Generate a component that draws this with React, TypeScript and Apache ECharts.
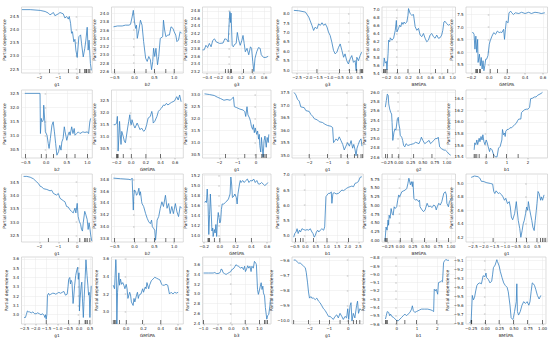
import React, { useEffect, useRef } from "react";
import * as echarts from "echarts";

// ---------- data ----------
const featureNames = ["g1", "b2", "g3", "g3", "BMSPA", "GMSPA", "b2", "GMSPA", "g1", "g1", "g2", "b1",
  "g1", "b2", "GMSPA", "b1", "BMSPA", "g1", "g1", "GMSPA", "b3", "g1", "b1", "BMSPA"];

const pd01 = [[-2.93,24.76],[-2.49,24.76],[-1.96,24.73],[-1.70,24.69],[-1.53,24.63],[-1.44,24.56],[-1.26,24.65],[-1.18,24.53],[-1.0,24.6],[-0.91,24.65],[-0.74,24.6],[-0.65,24.44],[-0.56,24.5],[-0.47,24.4],[-0.42,24.5],[-0.35,24.24],[-0.3,23.86],[-0.25,23.92],[-0.18,23.54],[-0.12,23.63],[-0.07,23.22],[0,22.94],[0.09,23.73],[0.18,23.8],[0.23,23.47],[0.32,22.96],[0.4,23.28],[0.46,23.6],[0.53,24.09],[0.58,23.22],[0.63,23.6],[0.7,22.71],[0.75,22.45]];
const pd02 = [[-0.53,23.68],[-0.43,23.7],[-0.31,23.7],[-0.23,23.72],[-0.14,23.72],[-0.1,23.74],[-0.06,23.92],[-0.03,24.08],[0,23.8],[0.03,23.64],[0.05,23.72],[0.07,23.4],[0.11,23.6],[0.15,23.84],[0.19,23.72],[0.23,23.32],[0.28,22.92],[0.32,22.84],[0.36,22.96],[0.4,22.88],[0.43,22.64],[0.46,22.84],[0.48,23.16],[0.51,22.96],[0.54,23.16],[0.58,22.76],[0.61,22.96],[0.65,23.4],[0.71,23.44],[0.73,23.84],[0.76,23.6],[0.79,23.44],[0.84,23.48],[0.88,23.48],[0.92,23.68],[0.97,23.64],[1.0,23.56],[1.04,23.48],[1.07,23.32],[1.11,23.36],[1.15,23.56],[1.19,23.52]];
const pd03 = [[-0.48,23.77],[-0.45,23.77],[-0.42,23.89],[-0.39,23.83],[-0.36,23.94],[-0.33,23.85],[-0.3,24.02],[-0.27,24.06],[-0.24,23.98],[-0.18,23.94],[-0.12,23.95],[-0.09,24.06],[-0.06,24.05],[-0.03,23.98],[-0.01,24.57],[0,24.78],[0.01,24.49],[0.02,24.74],[0.04,23.89],[0.06,23.85],[0.08,23.91],[0.11,23.94],[0.13,24.23],[0.15,24.06],[0.18,23.89],[0.21,24.02],[0.23,24.15],[0.25,23.94],[0.27,23.72],[0.3,23.81],[0.33,23.64],[0.36,23.85],[0.38,23.81],[0.4,23.47],[0.42,23.2],[0.44,23.55],[0.47,23.72],[0.5,23.83],[0.53,23.81],[0.55,23.64],[0.59,23.57],[0.63,23.57],[0.67,23.6]];
const pd04 = [[-2.65,8.18],[-2.42,8.16],[-2.1,8.09],[-1.94,7.82],[-1.79,7.38],[-1.71,7.11],[-1.63,7.29],[-1.55,7.2],[-1.47,7.46],[-1.39,7.38],[-1.31,7.52],[-1.23,7.38],[-1.15,7.46],[-1.07,7.29],[-1.0,7.02],[-0.92,6.84],[-0.84,6.48],[-0.76,6.04],[-0.68,5.86],[-0.6,5.95],[-0.52,6.21],[-0.44,6.39],[-0.36,6.04],[-0.28,5.68],[-0.21,5.86],[-0.13,5.5],[-0.05,5.32],[0.03,5.59],[0.11,5.77],[0.19,5.41],[0.27,5.5],[0.32,4.96],[0.35,5.68],[0.43,5.5],[0.51,5.77],[0.58,5.95]];
const pd05 = [[-0.25,5.57],[-0.24,5.78],[-0.22,5.65],[-0.2,5.69],[-0.19,5.48],[-0.17,5.9],[-0.16,6.23],[-0.14,6.19],[-0.13,6.29],[-0.1,6.23],[-0.07,6.28],[-0.04,6.48],[-0.02,6.73],[-0.01,6.44],[0.02,6.53],[0.04,6.61],[0.06,6.57],[0.08,6.68],[0.1,6.63],[0.12,6.69],[0.14,6.65],[0.17,6.69],[0.19,6.86],[0.2,7.03],[0.23,6.9],[0.26,6.86],[0.29,6.88],[0.32,6.57],[0.35,6.48],[0.38,6.53],[0.41,6.36],[0.44,6.32],[0.47,6.4],[0.5,6.28],[0.53,6.19],[0.56,6.23],[0.59,6.36],[0.62,6.4],[0.65,6.32],[0.68,6.28],[0.71,6.36],[0.74,6.28],[0.77,6.29],[0.8,6.36],[0.82,6.48],[0.84,6.69],[0.86,6.71],[0.89,6.65],[0.92,6.61],[0.95,6.63]];
const pd06 = [[-0.19,6.78],[-0.18,6.78],[-0.17,6.71],[-0.16,6.12],[-0.15,6.64],[-0.14,5.99],[-0.13,6.51],[-0.125,5.59],[-0.11,5.92],[-0.1,5.46],[-0.09,5.79],[-0.08,5.33],[-0.07,5.66],[-0.06,5.26],[-0.05,5.46],[-0.04,5.72],[-0.03,5.72],[-0.015,5.86],[0,6.32],[0.01,6.45],[0.03,6.64],[0.05,6.78],[0.07,6.71],[0.09,6.84],[0.11,6.78],[0.125,6.8],[0.14,6.78],[0.16,6.91],[0.17,6.51],[0.18,6.91],[0.19,7.24],[0.21,7.17],[0.22,7.57],[0.24,7.63],[0.25,7.57],[0.27,7.5],[0.29,7.57],[0.33,7.54],[0.36,7.59],[0.4,7.54],[0.44,7.59],[0.47,7.54],[0.51,7.59],[0.55,7.57],[0.58,7.54],[0.62,7.57]];
const pd07 = [[-0.52,32.5],[-0.15,32.5],[-0.14,31.07],[-0.12,31.61],[-0.1,31.49],[-0.07,31.55],[-0.06,32.08],[-0.03,31.43],[-0.02,31.13],[0.02,31.01],[0.05,30.71],[0.07,30.54],[0.1,30.89],[0.14,31.37],[0.17,31.49],[0.2,31.13],[0.23,30.71],[0.26,30.3],[0.3,30.42],[0.33,30.65],[0.36,30.48],[0.38,30.77],[0.41,30.89],[0.44,31.31],[0.46,31.13],[0.5,30.83],[0.53,31.01],[0.56,31.13],[0.58,31.01],[0.62,31.31],[0.65,31.07],[0.68,31.25],[0.7,31.01],[0.74,31.07],[0.78,31.13],[0.82,31.07],[0.89,31.13],[0.94,31.11],[1.0,31.13],[1.03,31.07],[1.06,31.49],[1.08,31.61]];
const pd08 = [[-0.24,31.5],[-0.22,31.5],[-0.2,31.57],[-0.19,31.85],[-0.185,31.36],[-0.18,30.39],[-0.17,30.94],[-0.16,31.64],[-0.15,31.08],[-0.14,30.67],[-0.13,31.22],[-0.11,31.01],[-0.095,30.81],[-0.08,30.74],[-0.07,30.94],[-0.05,31.36],[-0.035,31.64],[-0.02,31.92],[-0.01,31.57],[0,31.5],[0.01,31.71],[0.03,31.5],[0.05,31.36],[0.08,31.57],[0.1,31.43],[0.12,31.29],[0.14,31.36],[0.17,31.22],[0.19,31.29],[0.21,31.5],[0.23,31.78],[0.26,31.85],[0.28,32.06],[0.29,31.92],[0.3,31.57],[0.32,31.64],[0.35,31.85],[0.37,32.06],[0.39,32.13],[0.41,32.19],[0.44,32.33],[0.46,32.31],[0.48,32.4],[0.5,32.33],[0.53,32.4],[0.55,32.44],[0.57,32.47],[0.59,32.5],[0.62,32.68],[0.64,32.54],[0.66,32.75],[0.68,32.47]];
const pd09 = [[-2.81,33.04],[-2.54,33.01],[-2.28,32.97],[-2.11,32.9],[-1.93,32.84],[-1.75,32.77],[-1.58,32.8],[-1.4,32.77],[-1.32,32.84],[-1.23,32.9],[-1.18,32.5],[-1.05,32.46],[-0.88,32.4],[-0.7,32.36],[-0.61,32.29],[-0.56,32.09],[-0.49,32.5],[-0.44,32.16],[-0.35,32.02],[-0.3,31.89],[-0.25,31.68],[-0.18,31.55],[-0.14,31.75],[-0.09,31.41],[-0.04,31.61],[0.04,31.34],[0.09,31.48],[0.14,31.14],[0.18,31.34],[0.21,30.87],[0.26,30.6],[0.3,31.21],[0.35,30.73],[0.39,30.39],[0.44,31.07],[0.49,31.27],[0.56,30.8],[0.61,31.21],[0.67,31.0],[0.7,31.34]];
const pd10 = [[-2.81,37.5],[-2.72,37.41],[-2.63,37.23],[-2.54,37.16],[-2.46,36.93],[-2.28,36.9],[-2.19,36.78],[-2.02,36.75],[-1.93,36.63],[-1.84,36.56],[-1.75,36.46],[-1.58,36.41],[-1.49,36.34],[-1.32,36.31],[-1.23,36.26],[-1.14,36.22],[-1.05,36.19],[-0.88,36.16],[-0.79,36.11],[-0.74,35.51],[-0.67,35.59],[-0.61,35.66],[-0.53,35.59],[-0.44,35.74],[-0.35,35.59],[-0.26,35.44],[-0.18,35.22],[-0.09,35.37],[0,35.51],[0.09,35.37],[0.18,35.59],[0.26,35.29],[0.32,35.44],[0.39,35.22],[0.44,34.99],[0.49,35.29],[0.56,35.44],[0.63,35.59],[0.7,35.66],[0.75,35.37]];
const pd11 = [[-0.28,25.68],[-0.26,25.82],[-0.24,25.96],[-0.22,25.93],[-0.21,25.75],[-0.19,25.64],[-0.17,25.57],[-0.15,25.53],[-0.14,25.35],[-0.125,24.96],[-0.1,25.14],[-0.08,25.21],[-0.06,25.18],[-0.03,25.43],[-0.01,25.46],[0,25.32],[0.02,25.21],[0.03,25.07],[0.06,25.03],[0.07,25.0],[0.08,24.96],[0.1,24.85],[0.125,24.82],[0.15,24.89],[0.19,24.85],[0.24,24.87],[0.31,24.89],[0.35,24.92],[0.42,24.89],[0.45,24.96],[0.47,25.03],[0.5,24.96],[0.54,24.89],[0.58,24.92],[0.63,24.96],[0.66,24.89],[0.69,24.92],[0.73,24.96],[0.76,25.0],[0.8,25.0],[0.82,25.03],[0.85,24.82],[0.89,24.78],[0.94,24.75],[0.97,24.75],[1.01,24.71],[1.04,24.67],[1.08,24.64]];
const pd12 = [[-0.58,15.52],[-0.55,15.64],[-0.5,15.61],[-0.45,15.69],[-0.41,15.61],[-0.34,15.72],[-0.3,15.66],[-0.25,15.75],[-0.2,15.69],[-0.16,15.78],[-0.11,15.66],[-0.06,15.61],[0,15.69],[0.05,15.64],[0.09,15.58],[0.16,15.49],[0.2,15.55],[0.28,15.52],[0.36,15.43],[0.44,15.4],[0.52,15.4],[0.59,15.55],[0.67,15.58],[0.75,15.69],[0.78,15.87],[0.83,15.78],[0.88,15.81],[0.91,15.75],[0.94,15.84],[1.0,15.87],[1.06,15.87],[1.14,15.9],[1.22,15.9],[1.3,15.93],[1.38,15.96],[1.45,15.98],[1.5,16.02],[1.56,16.05],[1.66,16.05],[1.69,16.16],[1.77,16.19],[1.84,16.21],[1.92,16.22],[2.0,16.22],[2.08,16.25],[2.13,16.4],[2.23,16.41],[2.31,16.43],[2.39,16.43],[2.47,16.46],[2.63,16.49],[2.7,16.51]];
const pd13 = [[-2.84,34.71],[-2.67,34.71],[-2.49,34.68],[-2.32,34.62],[-2.23,34.56],[-2.14,34.5],[-2.05,34.44],[-1.96,34.34],[-1.88,34.32],[-1.79,34.25],[-1.61,34.22],[-1.44,34.17],[-1.35,34.19],[-1.26,34.07],[-1.09,34.01],[-1.0,34.07],[-0.91,33.89],[-0.74,33.8],[-0.65,33.76],[-0.56,33.58],[-0.47,33.56],[-0.39,33.46],[-0.3,33.4],[-0.21,33.34],[-0.12,33.52],[-0.07,33.34],[0,33.7],[0.05,33.21],[0.11,33.03],[0.18,32.91],[0.23,32.72],[0.28,32.66],[0.32,32.97],[0.4,33.4],[0.46,33.27],[0.53,33.09],[0.58,32.72],[0.63,32.97],[0.67,32.78],[0.72,32.48],[0.77,32.29]];
const pd14 = [[-0.53,34.82],[-0.35,34.81],[-0.14,34.8],[-0.1,34.79],[-0.06,34.82],[-0.03,34.28],[-0.02,34.51],[0,34.62],[0.03,34.59],[0.05,34.53],[0.08,34.56],[0.11,34.65],[0.13,34.53],[0.15,34.59],[0.18,34.42],[0.19,34.39],[0.23,34.34],[0.28,34.22],[0.32,34.14],[0.36,34.08],[0.4,34.05],[0.43,34.11],[0.45,34.0],[0.48,33.97],[0.51,33.94],[0.53,33.77],[0.55,33.91],[0.57,34.11],[0.61,34.17],[0.65,34.31],[0.69,34.42],[0.73,34.34],[0.78,34.53],[0.82,34.31],[0.86,34.39],[0.9,34.22],[0.94,34.34],[0.98,34.22],[1.03,34.39],[1.07,34.25],[1.11,34.17],[1.15,34.34],[1.19,34.31]];
const pd15 = [[-0.19,14.66],[-0.18,14.69],[-0.17,14.66],[-0.16,14.93],[-0.15,14.66],[-0.14,14.02],[-0.13,14.42],[-0.12,14.83],[-0.11,14.49],[-0.1,14.09],[-0.09,14.15],[-0.085,13.98],[-0.07,14.12],[-0.06,14.05],[-0.05,14.22],[-0.04,13.98],[-0.03,14.29],[-0.02,14.46],[-0.01,14.36],[0,14.25],[0.01,14.29],[0.02,14.52],[0.03,14.63],[0.05,14.63],[0.07,14.66],[0.09,14.69],[0.11,14.73],[0.13,14.83],[0.14,15.17],[0.15,15.03],[0.16,14.76],[0.18,14.79],[0.19,14.83],[0.21,14.76],[0.22,14.63],[0.23,14.83],[0.25,15.03],[0.26,15.1],[0.27,15.06],[0.29,15.1],[0.31,15.06],[0.33,15.1],[0.35,15.13],[0.37,15.06],[0.39,15.1],[0.41,15.09],[0.43,15.13],[0.45,15.06],[0.47,15.1],[0.49,15.03],[0.51,15.03],[0.53,15.06],[0.55,15.03],[0.57,15.0],[0.59,15.02],[0.61,15.06]];
const pd16 = [[-0.55,4.94],[-0.5,5.06],[-0.44,5.11],[-0.39,5.22],[-0.34,5.06],[-0.28,5.17],[-0.23,5.11],[-0.16,5.22],[-0.08,5.19],[0,5.17],[0.08,5.19],[0.16,5.17],[0.23,5.22],[0.31,5.11],[0.36,5.06],[0.42,4.94],[0.47,5.0],[0.52,5.11],[0.58,5.17],[0.63,5.11],[0.7,5.17],[0.78,5.22],[0.86,5.17],[0.91,5.28],[0.97,6.28],[1.02,6.33],[1.09,6.39],[1.17,6.39],[1.22,6.44],[1.25,6.06],[1.3,6.39],[1.36,6.41],[1.45,6.37],[1.56,6.39],[1.64,6.44],[1.72,6.5],[1.8,6.48],[1.88,6.52],[1.95,6.56],[2.03,6.59],[2.11,6.61],[2.19,6.63],[2.27,6.61],[2.34,6.72],[2.42,6.74],[2.5,6.78],[2.58,6.92],[2.66,6.94]];
const pd17 = [[-0.3,3.98],[-0.28,4.38],[-0.26,4.29],[-0.24,4.58],[-0.23,4.43],[-0.22,4.72],[-0.2,4.63],[-0.18,4.91],[-0.16,4.77],[-0.14,4.72],[-0.12,4.96],[-0.1,4.91],[-0.07,4.96],[-0.05,5.15],[-0.03,5.3],[-0.01,5.25],[0,5.25],[0.03,5.39],[0.07,5.42],[0.1,5.44],[0.13,5.49],[0.15,5.62],[0.17,5.78],[0.18,5.73],[0.2,5.59],[0.22,5.68],[0.24,5.54],[0.25,5.68],[0.27,5.2],[0.3,5.15],[0.33,5.17],[0.36,5.11],[0.38,5.15],[0.39,4.96],[0.43,4.87],[0.46,4.82],[0.49,4.87],[0.53,5.06],[0.56,4.96],[0.59,4.98],[0.63,4.94],[0.66,5.01],[0.69,4.98],[0.71,4.87],[0.73,4.96],[0.76,5.06],[0.79,5.01],[0.82,5.11],[0.86,5.35],[0.89,5.39],[0.91,5.3],[0.92,5.06],[0.95,4.96],[0.97,5.11],[1.01,5.2]];
const pd18 = [[-2.58,5.09],[-2.42,5.11],[-2.26,5.1],[-2.18,5.08],[-2.1,5.03],[-2.02,5.03],[-1.85,5.01],[-1.69,5.0],[-1.58,4.99],[-1.53,4.88],[-1.48,4.85],[-1.42,4.89],[-1.32,4.85],[-1.26,4.86],[-1.16,4.83],[-1.1,4.8],[-1.03,4.75],[-0.97,4.78],[-0.89,4.7],[-0.81,4.73],[-0.76,4.65],[-0.71,4.5],[-0.65,4.46],[-0.56,4.55],[-0.48,4.73],[-0.44,4.6],[-0.39,4.45],[-0.32,4.33],[-0.27,4.2],[-0.21,4.3],[-0.16,4.4],[-0.11,4.45],[-0.05,4.55],[0,4.65],[0.05,4.6],[0.08,4.73],[0.13,4.63],[0.19,4.53],[0.24,4.45],[0.29,4.35],[0.35,4.3],[0.4,4.45],[0.45,4.6],[0.48,4.7],[0.53,4.88],[0.58,4.85],[0.65,4.75],[0.69,4.8],[0.74,4.75],[0.81,4.83]];
const pd19 = [[-2.52,2.97],[-2.46,2.97],[-2.42,3.0],[-2.37,3.04],[-2.31,3.03],[-2.27,3.03],[-2.19,3.02],[-2.12,3.03],[-2.04,3.01],[-1.97,3.01],[-1.9,3.02],[-1.82,3.01],[-1.75,3.0],[-1.67,3.01],[-1.6,2.99],[-1.57,2.97],[-1.54,3.0],[-1.51,2.95],[-1.48,3.0],[-1.45,3.21],[-1.4,3.23],[-1.36,3.21],[-1.3,3.22],[-1.22,3.23],[-1.15,3.23],[-1.07,3.22],[-1.0,3.23],[-0.93,3.24],[-0.85,3.23],[-0.78,3.24],[-0.7,3.25],[-0.63,3.21],[-0.55,3.22],[-0.51,3.3],[-0.48,3.38],[-0.43,3.4],[-0.4,3.33],[-0.37,3.37],[-0.33,3.35],[-0.28,3.12],[-0.25,3.19],[-0.21,3.31],[-0.16,3.42],[-0.12,3.47],[-0.07,3.51],[-0.04,3.38],[-0.01,3.45],[0.01,3.04],[0.04,3.17],[0.09,3.31],[0.12,3.35],[0.15,3.17],[0.19,2.97],[0.22,3.14],[0.27,3.38],[0.31,3.59],[0.36,3.42],[0.4,3.31],[0.43,3.21],[0.46,3.24],[0.49,2.97],[0.52,3.17],[0.55,3.31]];
const pd20 = [[-0.15,3.3],[-0.135,3.26],[-0.12,3.59],[-0.116,3.52],[-0.108,2.86],[-0.1,3.22],[-0.085,3.44],[-0.077,3.3],[-0.066,3.37],[-0.054,3.31],[-0.04,3.33],[-0.027,3.3],[-0.015,3.26],[0,3.31],[0.01,3.26],[0.02,3.15],[0.04,3.22],[0.05,3.19],[0.06,3.11],[0.08,3.07],[0.09,3.15],[0.1,3.11],[0.12,3.19],[0.13,3.22],[0.14,3.15],[0.15,3.19],[0.17,3.2],[0.19,3.26],[0.2,3.22],[0.22,3.28],[0.23,3.26],[0.24,3.33],[0.26,3.26],[0.27,3.3],[0.29,3.35],[0.31,3.37],[0.33,3.39],[0.35,3.38],[0.37,3.37],[0.39,3.36],[0.41,3.31],[0.42,3.3],[0.44,3.3],[0.46,3.31],[0.48,3.3],[0.5,3.2],[0.52,3.22],[0.54,3.2],[0.56,3.22],[0.58,3.21],[0.6,3.22]];
const pd21 = [[-0.99,3.43],[-0.82,3.43],[-0.65,3.43],[-0.59,3.44],[-0.54,3.42],[-0.48,3.42],[-0.42,3.43],[-0.39,3.46],[-0.37,3.51],[-0.33,3.5],[-0.3,3.44],[-0.25,3.42],[-0.19,3.4],[-0.14,3.42],[-0.08,3.44],[-0.02,3.46],[0.01,3.5],[0.05,3.51],[0.09,3.53],[0.13,3.57],[0.16,3.6],[0.21,3.58],[0.26,3.57],[0.32,3.53],[0.38,3.55],[0.43,3.5],[0.47,3.57],[0.5,3.46],[0.54,3.51],[0.58,3.58],[0.62,3.53],[0.66,3.57],[0.7,3.46],[0.73,3.57],[0.78,3.53],[0.82,3.67],[0.87,3.63],[0.89,3.6],[0.93,3.09],[0.96,2.99],[0.99,3.06],[1.03,3.16],[1.06,3.23],[1.09,3.09],[1.12,3.16],[1.14,3.02],[1.18,2.96],[1.21,2.72],[1.26,2.48],[1.29,2.55],[1.33,2.58],[1.37,2.75],[1.39,2.89]];
const pd22 = [[-2.84,-9.6],[-2.76,-9.6],[-2.67,-9.61],[-2.59,-9.62],[-2.5,-9.62],[-2.41,-9.63],[-2.33,-9.64],[-2.24,-9.65],[-2.19,-9.68],[-2.12,-9.75],[-2.07,-9.81],[-2.02,-9.85],[-1.95,-9.84],[-1.9,-9.85],[-1.81,-9.85],[-1.72,-9.86],[-1.64,-9.85],[-1.55,-9.87],[-1.47,-9.88],[-1.38,-9.9],[-1.29,-9.92],[-1.21,-9.93],[-1.12,-9.95],[-1.03,-9.97],[-0.95,-9.97],[-0.86,-9.98],[-0.78,-9.99],[-0.69,-9.97],[-0.6,-9.96],[-0.52,-9.98],[-0.43,-9.95],[-0.34,-9.97],[-0.26,-9.99],[-0.17,-9.97],[-0.09,-9.98],[-0.03,-9.92],[0.02,-9.99],[0.09,-9.9],[0.14,-9.88],[0.19,-10.0],[0.26,-9.95],[0.34,-9.98],[0.43,-9.9],[0.48,-9.87],[0.53,-9.95],[0.6,-9.92],[0.69,-9.93]];
const pd23 = [[-0.56,-9.54],[-0.52,-9.5],[-0.47,-9.45],[-0.4,-9.46],[-0.35,-9.5],[-0.31,-9.48],[-0.24,-9.51],[-0.16,-9.52],[-0.08,-9.54],[0,-9.56],[0.08,-9.56],[0.16,-9.54],[0.24,-9.52],[0.32,-9.5],[0.4,-9.48],[0.48,-9.5],[0.56,-9.48],[0.65,-9.46],[0.73,-9.42],[0.77,-9.38],[0.82,-9.44],[0.89,-9.46],[0.97,-9.45],[1.05,-9.44],[1.13,-9.43],[1.21,-9.42],[1.37,-9.42],[1.53,-9.42],[1.69,-9.43],[1.77,-9.44],[1.82,-9.45],[1.85,-9.18],[1.9,-9.2],[1.95,-9.18],[2.02,-9.24],[2.06,-9.1],[2.15,-9.09],[2.21,-9.08],[2.26,-9.09],[2.31,-8.86],[2.35,-8.84],[2.42,-8.82],[2.5,-8.83],[2.58,-8.83]];
const pd24 = [[-0.28,-9.8],[-0.25,-9.78],[-0.23,-9.49],[-0.21,-9.54],[-0.19,-9.51],[-0.17,-9.44],[-0.15,-9.38],[-0.13,-9.36],[-0.1,-9.35],[-0.07,-9.36],[-0.06,-9.33],[-0.04,-9.27],[-0.01,-9.28],[0.01,-9.24],[0.02,-9.29],[0.05,-9.31],[0.08,-9.35],[0.11,-9.33],[0.125,-9.26],[0.14,-9.18],[0.17,-9.15],[0.2,-9.09],[0.21,-9.11],[0.24,-9.16],[0.26,-9.22],[0.29,-9.29],[0.32,-9.35],[0.35,-9.38],[0.38,-9.4],[0.4,-9.45],[0.43,-9.6],[0.45,-9.74],[0.48,-9.76],[0.49,-9.74],[0.51,-9.67],[0.54,-9.56],[0.55,-9.36],[0.56,-9.67],[0.58,-9.71],[0.61,-9.67],[0.64,-9.6],[0.67,-9.56],[0.7,-9.58],[0.73,-9.56],[0.76,-9.6],[0.78,-9.56],[0.8,-9.45],[0.82,-9.35],[0.84,-9.36],[0.86,-9.38],[0.88,-9.42],[0.91,-9.49],[0.94,-9.53],[0.97,-9.49]];

const pdCurves = [pd01, pd02, pd03, pd04, pd05, pd06, pd07, pd08, pd09, pd10, pd11, pd12,
  pd13, pd14, pd15, pd16, pd17, pd18, pd19, pd20, pd21, pd22, pd23, pd24];

// deciles of each feature (rug marks)
const rugValues = [
  [-1.47, -0.47, 0.14, 0.4, 0.46, 0.49, 0.58, 0.67],
  [-0.5, 0.0, 0.29, 0.5, 0.79, 1.0],
  [-0.08, -0.03, 0.01, 0.03, 0.24, 0.39],
  [-1.55, -0.47, 0.0, 0.35, 0.51, 0.58, 0.63],
  [-0.25, -0.24, -0.22, -0.19, 0.0, 0.19, 0.4, 0.69, 0.91],
  [-0.15, -0.14, -0.13, -0.11, -0.1, 0.01, 0.09, 0.2],
  [-0.5, -0.12, 0, 0.18, 0.5, 0.7, 1.0],
  [-0.2, -0.19, -0.18, -0.11, 0, 0.2, 0.4],
  [-1.67, -0.61, 0, 0.32, 0.39, 0.49, 0.56],
  [-2.02, -1.05, -0.35, 0, 0.35, 0.53, 0.7, 0.79],
  [-0.28, -0.24, -0.14, 0, 0.31, 0.69],
  [-0.58, -0.53, -0.45, -0.34, 0, 0.36, 0.98, 1.53],
  [-1.53, -0.47, 0.14, 0.4, 0.46, 0.53, 0.67],
  [-0.5, 0, 0.29, 0.5, 0.79, 1.0],
  [-0.15, -0.14, -0.13, -0.07, 0, 0.2, 0.4],
  [-0.47, -0.23, -0.11, 0.39, 1.02, 2.03],
  [-0.3, -0.28, -0.26, 0, 0.23, 0.48, 0.72, 0.95],
  [-1.56, -0.48, 0, 0.48, 0.65, 0.73, 0.81, 0.89],
  [-1.51, -0.48, 0, 0.27, 0.31, 0.37, 0.49],
  [-0.15, -0.135, -0.12, -0.077, 0, 0.19, 0.4],
  [-0.99, 0.49, 1.0, 1.18, 1.23, 1.29],
  [-2.84, -2.07, -1.5, -0.98, -0.43, 0, 0.26, 0.43, 0.6],
  [-0.56, -0.52, -0.47, 0, 0.4, 0.97, 1.98],
  [-0.25, -0.24, 0, 0.24, 0.49, 0.74, 1.0],
];

// tick labels
const xTickValues = [
  [-2, -1, 0], [-0.5, 0.0, 0.5, 1.0], [-0.4, -0.2, 0.0, 0.2, 0.4, 0.6], [-2.5, -2.0, -1.5, -1.0, -0.5, 0.0, 0.5],
  [-0.2, 0.0, 0.2, 0.4, 0.6, 0.8, 1.0], [-0.2, 0.0, 0.2, 0.4, 0.6],
  [-0.5, 0.0, 0.5, 1.0], [-0.2, 0.0, 0.2, 0.4, 0.6], [-2, -1, 0], [-2, -1, 0],
  [-0.25, 0.0, 0.25, 0.5, 0.75, 1.0], [0, 1, 2],
  [-2, -1, 0], [-0.5, 0.0, 0.5, 1.0], [-0.2, 0.0, 0.2, 0.4, 0.6], [-0.5, 0.0, 0.5, 1.0, 1.5, 2.0, 2.5],
  [-0.25, 0.0, 0.25, 0.5, 0.75, 1.0], [-2.5, -2.0, -1.5, -1.0, -0.5, 0.0, 0.5],
  [-2.5, -2.0, -1.5, -1.0, -0.5, 0.0, 0.5], [-0.2, 0.0, 0.2, 0.4, 0.6], [-1.0, -0.5, 0.0, 0.5, 1.0], [-2, -1, 0],
  [0, 1, 2], [-0.25, 0.0, 0.25, 0.5, 0.75, 1.0],
];
const xTickDecimals = [0, 1, 1, 1, 1, 1, 1, 1, 0, 0, 2, 0, 0, 1, 1, 1, 2, 1, 1, 1, 1, 0, 0, 2];
const yTickValues = [
  [22.5, 23.0, 23.5, 24.0, 24.5],
  [22.6, 22.8, 23.0, 23.2, 23.4, 23.6, 23.8, 24.0],
  [23.2, 23.4, 23.6, 23.8, 24.0, 24.2, 24.4, 24.6, 24.8],
  [5.0, 5.5, 6.0, 6.5, 7.0, 7.5, 8.0],
  [5.4, 5.6, 5.8, 6.0, 6.2, 6.4, 6.6, 6.8, 7.0],
  [5.5, 6.0, 6.5, 7.0, 7.5],
  [30.5, 31.0, 31.5, 32.0, 32.5],
  [30.5, 31.0, 31.5, 32.0, 32.5],
  [30.5, 31.0, 31.5, 32.0, 32.5, 33.0],
  [35.0, 35.5, 36.0, 36.5, 37.0, 37.5],
  [24.6, 24.8, 25.0, 25.2, 25.4, 25.6, 25.8, 26.0],
  [15.4, 15.6, 15.8, 16.0, 16.2, 16.4],
  [32.5, 33.0, 33.5, 34.0, 34.5],
  [33.8, 34.0, 34.2, 34.4, 34.6, 34.8],
  [14.0, 14.2, 14.4, 14.6, 14.8, 15.0, 15.2],
  [5.0, 5.5, 6.0, 6.5, 7.0],
  [4.0, 4.25, 4.5, 4.75, 5.0, 5.25, 5.5, 5.75],
  [4.2, 4.4, 4.6, 4.8, 5.0],
  [3.0, 3.1, 3.2, 3.3, 3.4, 3.5, 3.6],
  [3.0, 3.2, 3.4, 3.6],
  [2.4, 2.6, 2.8, 3.0, 3.2, 3.4, 3.6],
  [-10.0, -9.9, -9.8, -9.7, -9.6],
  [-9.6, -9.5, -9.4, -9.3, -9.2, -9.1, -9.0, -8.9, -8.8],
  [-9.8, -9.7, -9.6, -9.5, -9.4, -9.3, -9.2, -9.1],
];
const yTickDecimals = [1, 1, 1, 1, 1, 1, 1, 1, 1, 1, 1, 1, 1, 1, 1, 1, 2, 1, 1, 1, 1, 1, 1, 1];

// axis limits (matplotlib margins)
const xLimits = [[-2.95, 0.8], [-0.58, 1.23], [-0.48, 0.72], [-2.74, 0.66], [-0.28, 1.05], [-0.26, 0.65],
  [-0.6, 1.12], [-0.27, 0.71], [-2.92, 0.82], [-2.92, 0.82], [-0.35, 1.18], [-0.97, 2.94],
  [-2.95, 0.8], [-0.58, 1.23], [-0.22, 0.65], [-0.63, 2.73], [-0.36, 1.09], [-2.82, 0.97],
  [-2.64, 0.6], [-0.17, 0.66], [-1.03, 1.41], [-2.93, 0.78], [-0.73, 2.9], [-0.34, 1.06]];
const yLimits = [[22.35, 24.86], [22.56, 24.16], [23.16, 24.9], [4.84, 8.36], [5.4, 7.07], [5.17, 7.8],
  [30.2, 32.62], [30.1, 32.96], [30.35, 33.2], [34.9, 37.6], [24.58, 26.05], [15.38, 16.55],
  [32.25, 34.8], [33.74, 34.89], [13.87, 15.23], [4.78, 7.03], [3.95, 5.9], [4.13, 5.14],
  [2.9, 3.62], [2.86, 3.62], [2.38, 3.76], [-10.02, -9.58], [-9.6, -8.79], [-9.81, -9.06]];

// ---------- layout ----------
const colLeft = [21.5, 111.5, 202.5, 292, 382, 466];
const colRight = [92.3, 183.3, 271, 363.3, 455.5, 547.5];
const rowTop = [7, 90, 174, 257];
const rowBottom = [73, 158, 242, 326];

const FONT = "DejaVu Sans";
const fmt = (v: number, d: number) => v.toFixed(d).replace("-", "\u2212");

export default function App() {
  const ref = useRef<HTMLDivElement>(null);
  useEffect(() => {
    if (!ref.current) return;
    const chart = echarts.init(ref.current, null, { renderer: "svg" });
    const grids: any[] = [];
    const xAxes: any[] = [];
    const yAxes: any[] = [];
    const series: any[] = [];
    for (let i = 0; i < 24; i++) {
      const r = Math.floor(i / 6);
      const c = i % 6;
      grids.push({
        left: colLeft[c], top: rowTop[r],
        width: colRight[c] - colLeft[c], height: rowBottom[r] - rowTop[r],
        show: true, borderColor: "#c4c4c4", borderWidth: 0.6, backgroundColor: "#fff",
      });
      const xd = xTickDecimals[i];
      const yd = yTickDecimals[i];
      xAxes.push({
        type: "value", gridIndex: i, min: xLimits[i][0], max: xLimits[i][1],
        name: featureNames[i], nameLocation: "middle", nameGap: 9,
        nameTextStyle: { fontFamily: FONT, fontSize: 4.3, color: "#222" },
        axisLine: { show: false },
        axisTick: { show: true, length: 1.5, lineStyle: { color: "#666", width: 0.4 }, customValues: xTickValues[i] },
        axisLabel: { fontFamily: FONT, fontSize: 4, color: "#222", margin: 2.5, customValues: xTickValues[i],
          formatter: (v: number) => fmt(v, xd) },
        splitLine: { show: true, lineStyle: { color: "#e8e8e8", width: 0.5 } },
      });
      yAxes.push({
        type: "value", gridIndex: i, min: yLimits[i][0], max: yLimits[i][1],
        name: "Partial dependence", nameLocation: "middle", nameGap: 13, nameRotate: 90,
        nameTextStyle: { fontFamily: FONT, fontSize: 4.3, color: "#222" },
        axisLine: { show: false },
        axisTick: { show: true, length: 1.5, lineStyle: { color: "#666", width: 0.4 }, customValues: yTickValues[i] },
        axisLabel: { fontFamily: FONT, fontSize: 4, color: "#222", margin: 2.5, customValues: yTickValues[i],
          formatter: (v: number) => fmt(v, yd) },
        splitLine: { show: true, lineStyle: { color: "#e8e8e8", width: 0.5 } },
      });
      series.push({
        type: "line", xAxisIndex: i, yAxisIndex: i, data: pdCurves[i],
        showSymbol: false, symbol: "none",
        lineStyle: { color: "#3680c0", width: 0.8 }, z: 3, silent: true,
      });
      series.push({
        type: "scatter", xAxisIndex: i, yAxisIndex: i,
        data: rugValues[i].map((v) => [v, yLimits[i][0]]),
        symbol: "rect", symbolSize: [0.7, 4], symbolOffset: [0, -2],
        itemStyle: { color: "#000" }, z: 4, silent: true,
      });
    }
    chart.setOption({
      animation: false,
      backgroundColor: "#fff",
      grid: grids, xAxis: xAxes, yAxis: yAxes, series,
    });
    return () => chart.dispose();
  }, []);
  return <div ref={ref} style={{ position: "fixed", left: 0, top: 0, width: 550, height: 338, background: "#fff" }} />;
}
